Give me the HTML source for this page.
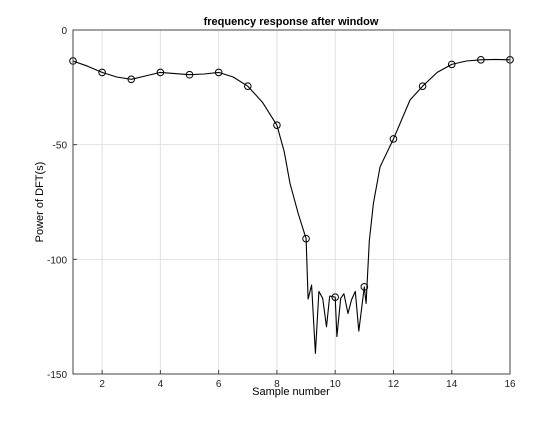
<!DOCTYPE html>
<html><head><meta charset="utf-8"><style>
body{margin:0;background:#fff;}
text{font-family:"Liberation Sans",sans-serif;}
</style></head><body>
<svg id="chart" width="560" height="420" xmlns="http://www.w3.org/2000/svg">
<rect width="560" height="420" fill="#fff"/>
<g id="grid"></g>
<g id="series"></g>
<rect x="73" y="30" width="437" height="344" fill="none" stroke="#444" stroke-width="1"/>
<g id="ticks"></g>
<text x="291" y="25" text-anchor="middle" font-size="11" font-weight="bold">frequency response after window</text>
<text x="291" y="395" text-anchor="middle" font-size="11">Sample number</text>
<text transform="translate(43,202) rotate(-90)" text-anchor="middle" font-size="11">Power of DFT(s)</text>
</svg>
<script>
const markerX=[1,2,3,4,5,6,7,8,9,10,11,12,13,14,15,16];
const markerY=[-13.5,-18.5,-21.5,-18.5,-19.5,-18.5,-24.5,-41.5,-91,-116.5,-112,-47.5,-24.5,-15,-13,-13];
const lineX=[1,1.5,2,2.5,3,3.5,4,4.5,5,5.5,6,6.5,7,7.5,8,8.25,8.45,8.73,9,9.07,9.19,9.32,9.44,9.57,9.7,9.81,10,10.06,10.19,10.3,10.44,10.56,10.69,10.81,11,11.06,11.17,11.31,11.54,12,12.57,13,13.5,14,14.5,15,15.5,16];
const lineY=[-13.5,-15.8,-18.5,-20.5,-21.5,-20,-18.5,-19,-19.5,-19.2,-18.5,-20.5,-24.5,-31.5,-41.5,-53,-66.9,-80,-91,-117.3,-111.2,-141,-114,-117,-129.4,-116,-116.5,-133.7,-117,-115,-123.6,-117.7,-114,-131.3,-112,-119.2,-92,-75.6,-59.6,-47.5,-30.5,-24.5,-18.5,-15,-13.5,-13,-12.8,-13];
const xTicks=[2,4,6,8,10,12,14,16];
const yTicks=[0,-50,-100,-150];
const NS="http://www.w3.org/2000/svg";
const L=73,R=510,T=30,B=374;
const sx=v=>L+(v-1)/(16-1)*(R-L);
const sy=v=>T+(0-v)/150*(B-T);
function mk(tag,attrs,parent){const e=document.createElementNS(NS,tag);for(const k in attrs)e.setAttribute(k,attrs[k]);parent.appendChild(e);return e;}
const grid=document.getElementById('grid'),ticks=document.getElementById('ticks'),ser=document.getElementById('series');
xTicks.forEach(t=>{
  const g=mk('line',{x1:sx(t),x2:sx(t),y1:T,y2:B,stroke:'#e2e2e2','stroke-width':1},grid);
  
  
  const tk=mk('line',{x1:sx(t),x2:sx(t),y1:B,y2:B-4,stroke:'#444'},ticks);
  
  
  const lb=mk('text',{x:sx(t),y:B+13,'text-anchor':'middle','font-size':10,fill:'#222'},ticks);
  lb.textContent=t;
  
  
});
yTicks.forEach(t=>{
  const g=mk('line',{x1:L,x2:R,y1:sy(t),y2:sy(t),stroke:'#e2e2e2','stroke-width':1},grid);
  
  
  const tk=mk('line',{x1:L,x2:L+4,y1:sy(t),y2:sy(t),stroke:'#444'},ticks);
  
  
  const lb=mk('text',{x:L-6,y:sy(t)+4,'text-anchor':'end','font-size':10,fill:'#222'},ticks);
  lb.textContent=t;
  
  
});
const pts=lineX.map((x,i)=>sx(x).toFixed(1)+','+sy(lineY[i]).toFixed(1)).join(' ');
const pl=mk('polyline',{points:pts,fill:'none',stroke:'#000','stroke-width':1.1,'stroke-linejoin':'round'},ser);


markerX.forEach((x,i)=>{
  const c=mk('circle',{cx:sx(x),cy:sy(markerY[i]),r:3.3,fill:'none',stroke:'#000','stroke-width':1},ser);
  
  
});
</script>
</body></html>
